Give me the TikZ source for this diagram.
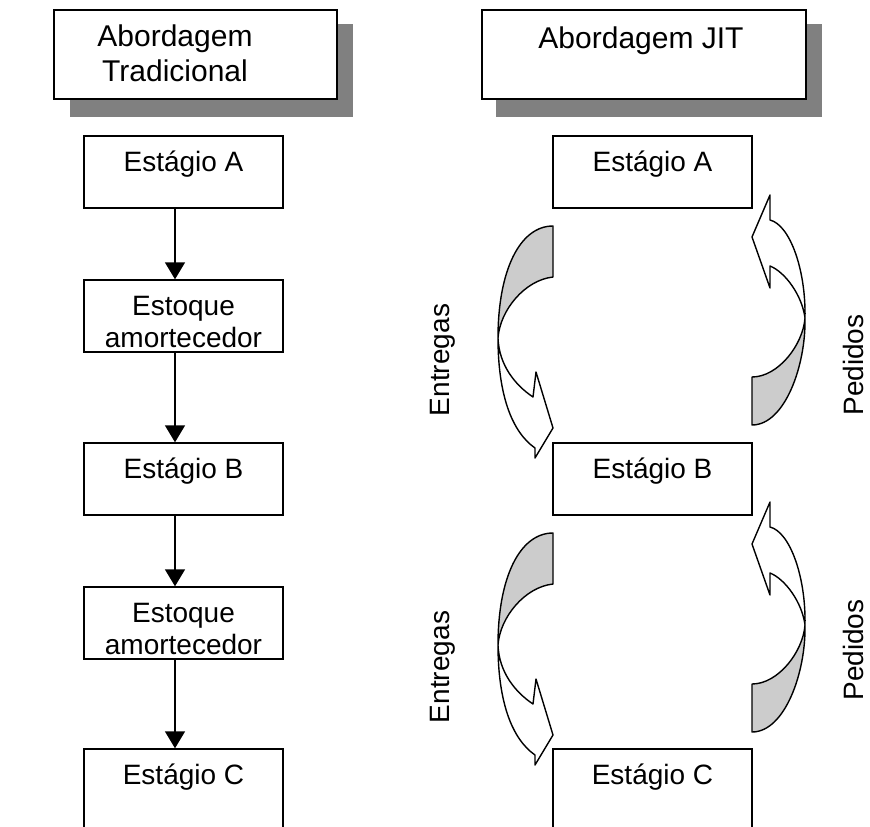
\documentclass[tikz,border=0pt]{standalone}
\usepackage{fontspec}
\setmainfont{Liberation Sans}
\usetikzlibrary{arrows.meta}
\definecolor{shadowgray}{RGB}{128,128,128}
\definecolor{bandgray}{RGB}{204,204,204}
\begin{document}
\begin{tikzpicture}[x=1pt,y=-1pt,
  stagebox/.style={draw=black, line width=1.4pt, fill=white, inner sep=0pt,
    minimum width=199pt, minimum height=72pt},
  headbox/.style={draw=black, line width=2pt, fill=white, inner sep=0pt},
  shadowbox/.style={fill=shadowgray},
  txt/.style={inner sep=0pt, font=\fontsize{28}{32}\selectfont, align=center},
  headtxt/.style={inner sep=0pt, font=\fontsize{30}{35}\selectfont, align=center},
  flow/.style={line width=1.4pt, -{Triangle[length=17pt,width=20pt]}},
  band/.style={draw=black, line width=1.4pt, line join=round},
  backside/.style={fill=bandgray},
  % curved "Entregas" arrow: grey back side on top, head pointing right
  deliveryarrow/.pic={
    \fill[backside] (553,226) .. controls (520,226) and (498,270) .. (498,338)
      .. controls (500,310) and (525,280) .. (553,277) -- cycle;
    \draw[band] (553,226) .. controls (520,226) and (498,270) .. (498,338)
      .. controls (498,395) and (512,432) .. (535,448) -- (535,458) -- (553,428)
      -- (536,372) -- (533,397) .. controls (515,385) and (499,365) .. (498,338)
      .. controls (500,310) and (525,280) .. (553,277) -- cycle;
  },
  % curved "Pedidos" arrow: grey back side at the bottom, head pointing left
  orderarrow/.pic={
    \fill[backside] (752,425) .. controls (785,425) and (806,365) .. (805,318)
      .. controls (803,345) and (778,377) .. (752,377) -- cycle;
    \draw[band] (752,425) .. controls (785,425) and (806,365) .. (805,318)
      .. controls (806,270) and (790,225) .. (770,220) -- (770,195) -- (752,237)
      -- (770,288) -- (770,266) .. controls (785,272) and (802,295) .. (805,318)
      .. controls (803,345) and (778,377) .. (752,377) -- cycle;
  },
]
\useasboundingbox (0,0) rectangle (870,827);
\clip (0,0) rectangle (870,827);

% headers with drop shadows
\fill[shadowbox] (70,24) rectangle (353,117);
\node[headbox, minimum width=283pt, minimum height=89pt] (lhead) at (195.5,54.5) {};
\node[headtxt, anchor=north] (lheadtxt) at (175,24.5) {Abordagem\\Tradicional};

\fill[shadowbox] (496,24) rectangle (822,117);
\node[headbox, minimum width=324pt, minimum height=89pt] (rhead) at (644,54.5) {};
\node[headtxt, anchor=base] (rheadtxt) at (641,48) {Abordagem JIT};

% traditional approach: stages separated by buffer stock
\coordinate (axis) at (175,0);
\node[stagebox] (la) at (183.5,172) {};
\node[txt, anchor=base] (latxt) at (183.5,171.7) {Estágio A};
\node[stagebox] (le1) at (183.5,316) {};
\node[txt, anchor=north] (le1txt) at (183.5,296.5) {Estoque\\amortecedor};
\node[stagebox] (lb) at (183.5,479) {};
\node[txt, anchor=base] (lbtxt) at (183.5,478.7) {Estágio B};
\node[stagebox] (le2) at (183.5,623) {};
\node[txt, anchor=north] (le2txt) at (183.5,603.5) {Estoque\\amortecedor};
\node[stagebox, minimum height=100pt] (lc) at (183.5,799) {};
\node[txt, anchor=base] (lctxt) at (183.5,784.7) {Estágio C};

\draw[flow] (la.south -| axis) -- (le1.north -| axis);
\draw[flow] (le1.south -| axis) -- (lb.north -| axis);
\draw[flow] (lb.south -| axis) -- (le2.north -| axis);
\draw[flow] (le2.south -| axis) -- (lc.north -| axis);

% JIT approach: stages linked by deliveries and orders
\node[stagebox] (ra) at (652.5,172) {};
\node[txt, anchor=base] (ratxt) at (652.5,171.7) {Estágio A};
\node[stagebox] (rb) at (652.5,479) {};
\node[txt, anchor=base] (rbtxt) at (652.5,478.7) {Estágio B};
\node[stagebox, minimum height=100pt] (rc) at (652.5,799) {};
\node[txt, anchor=base] (rctxt) at (652.5,784.7) {Estágio C};

\pic (d1) at (0,0) {deliveryarrow};
\pic (o1) at (0,0) {orderarrow};
\pic (d2) at (0,307) {deliveryarrow};
\pic (o2) at (0,307) {orderarrow};

\node[txt, rotate=90] (ent1) at (443,360) {Entregas};
\node[txt, rotate=90] (ped1) at (853,365) {Pedidos};
\node[txt, rotate=90] (ent2) at (443,667) {Entregas};
\node[txt, rotate=90] (ped2) at (853,650) {Pedidos};
\end{tikzpicture}
\end{document}
